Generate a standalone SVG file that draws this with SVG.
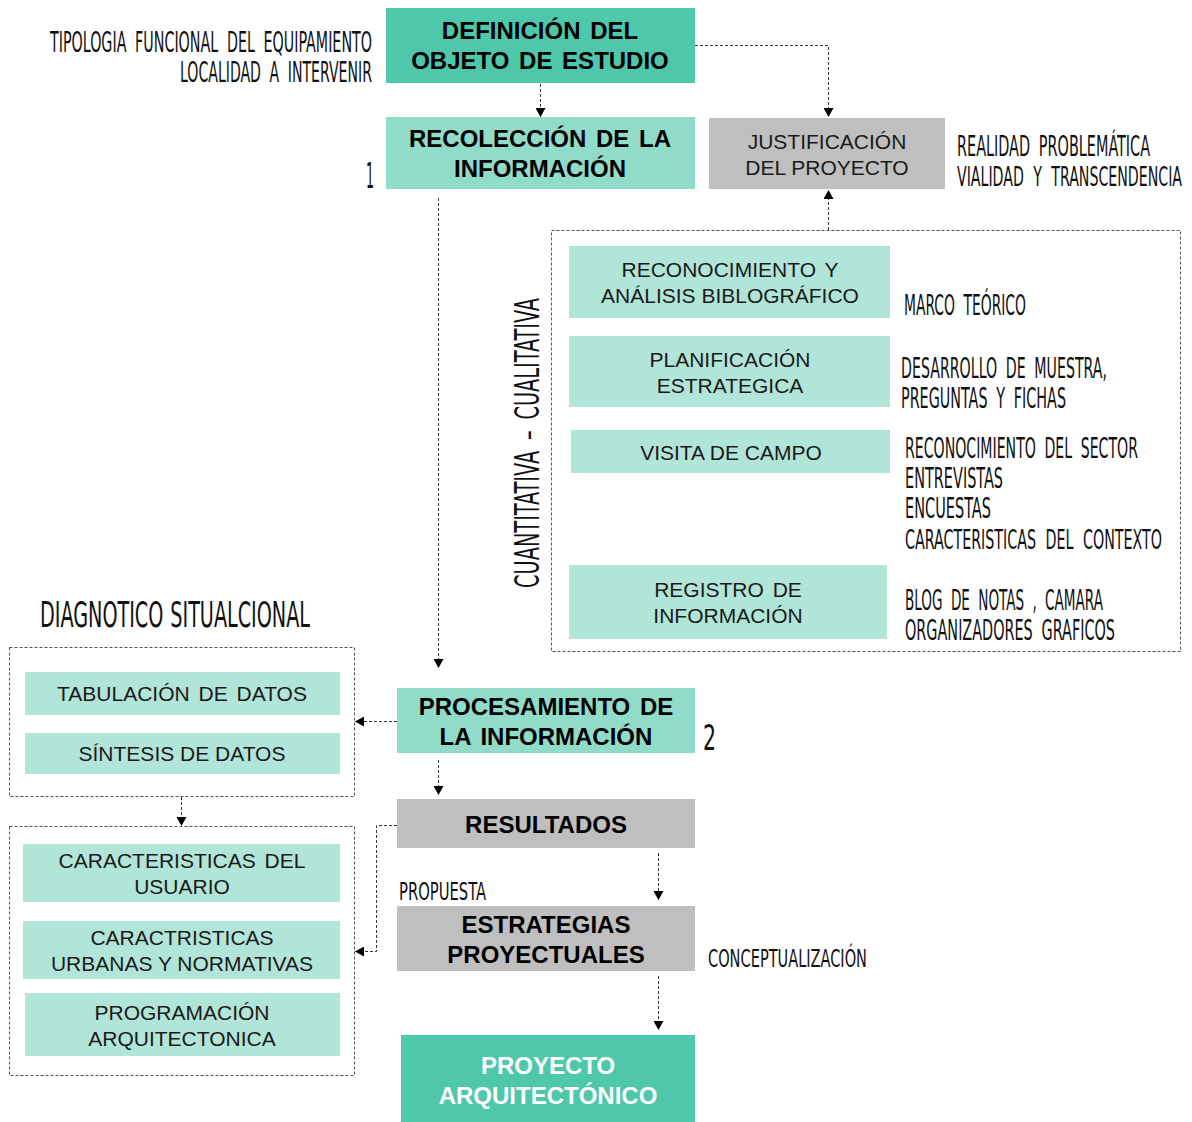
<svg xmlns="http://www.w3.org/2000/svg" width="1192" height="1122" viewBox="0 0 1192 1122">
<defs>
<marker id="ah" markerWidth="9" markerHeight="10" refX="9" refY="5" orient="auto" markerUnits="userSpaceOnUse">
<path d="M0,0 L9,5 L0,10 z" fill="#000"/>
</marker>
<style>
.dk{fill:#4EC7AA}
.md{fill:#91DCC9}
.lt{fill:#B1E5D8}
.gr{fill:#BFBFBF}
.bt{font-family:"Liberation Sans",Arial,sans-serif;font-weight:bold;font-size:24px;fill:#000;text-anchor:middle;word-spacing:3px}
.wt{font-family:"Liberation Sans",Arial,sans-serif;font-weight:bold;font-size:24px;fill:#fff;text-anchor:middle}
.rt{font-family:"Liberation Sans",Arial,sans-serif;font-size:21px;fill:#1a1a1a;text-anchor:middle}
.cn{font-family:"Liberation Sans Narrow","DejaVu Sans Condensed","Liberation Sans",sans-serif;font-size:19px;fill:#111;word-spacing:5px}
.dash{fill:none;stroke:#555;stroke-width:1;stroke-dasharray:3,2}
.con{fill:none;stroke:#333;stroke-width:1;stroke-dasharray:3,2}
</style>
</defs>
<rect width="1192" height="1122" fill="#fff"/>

<g id="labels">
<g transform="translate(50,52) scale(1,1.45)"><text class="cn" textLength="322" lengthAdjust="spacingAndGlyphs">TIPOLOGIA FUNCIONAL DEL EQUIPAMIENTO</text></g>
<g transform="translate(180,82) scale(1,1.45)"><text class="cn" textLength="192" lengthAdjust="spacingAndGlyphs">LOCALIDAD A INTERVENIR</text></g>
<g transform="translate(366,188) scale(1,1.45)"><text class="cn" style="font-size:25px" textLength="8" lengthAdjust="spacingAndGlyphs">1</text></g>
<g transform="translate(957,156) scale(1,1.45)"><text class="cn" textLength="193" lengthAdjust="spacingAndGlyphs">REALIDAD PROBLEMÁTICA</text></g>
<g transform="translate(957,186) scale(1,1.7)"><text class="cn" style="font-size:16px" textLength="225" lengthAdjust="spacingAndGlyphs">VIALIDAD Y TRANSCENDENCIA</text></g>
<g transform="translate(904,315) scale(1,1.45)"><text class="cn" textLength="122" lengthAdjust="spacingAndGlyphs">MARCO TEÓRICO</text></g>
<g transform="translate(901,378) scale(1,1.45)"><text class="cn" textLength="206" lengthAdjust="spacingAndGlyphs">DESARROLLO DE MUESTRA,</text></g>
<g transform="translate(901,408) scale(1,1.45)"><text class="cn" textLength="165" lengthAdjust="spacingAndGlyphs">PREGUNTAS Y FICHAS</text></g>
<g transform="translate(905,458) scale(1,1.45)"><text class="cn" textLength="233" lengthAdjust="spacingAndGlyphs">RECONOCIMIENTO DEL SECTOR</text></g>
<g transform="translate(905,488) scale(1,1.45)"><text class="cn" textLength="98" lengthAdjust="spacingAndGlyphs">ENTREVISTAS</text></g>
<g transform="translate(905,518) scale(1,1.45)"><text class="cn" textLength="86" lengthAdjust="spacingAndGlyphs">ENCUESTAS</text></g>
<g transform="translate(905,549) scale(1,1.7)"><text class="cn" style="font-size:16px" textLength="257" lengthAdjust="spacingAndGlyphs">CARACTERISTICAS DEL CONTEXTO</text></g>
<g transform="translate(905,610) scale(1,1.45)"><text class="cn" textLength="198" lengthAdjust="spacingAndGlyphs">BLOG DE NOTAS , CAMARA</text></g>
<g transform="translate(905,640) scale(1,1.45)"><text class="cn" textLength="210" lengthAdjust="spacingAndGlyphs">ORGANIZADORES GRAFICOS</text></g>
<g transform="translate(539,588) rotate(-90) scale(1,1.45)"><text class="cn" style="font-size:23px" textLength="290" lengthAdjust="spacingAndGlyphs">CUANTITATIVA – CUALITATIVA</text></g>
<g transform="translate(40,627) scale(1,1.45)"><text class="cn" style="font-size:25px;word-spacing:1px" textLength="270" lengthAdjust="spacingAndGlyphs">DIAGNOTICO SITUALCIONAL</text></g>
<g transform="translate(703,750) scale(1,1.45)"><text class="cn" style="font-size:24px" textLength="13" lengthAdjust="spacingAndGlyphs">2</text></g>
<g transform="translate(399,900) scale(1,1.4)"><text class="cn" style="font-size:18px" textLength="87" lengthAdjust="spacingAndGlyphs">PROPUESTA</text></g>
<g transform="translate(708,967) scale(1,1.4)"><text class="cn" style="font-size:18px" textLength="159" lengthAdjust="spacingAndGlyphs">CONCEPTUALIZACIÓN</text></g>
</g>

<g id="frames">
<rect class="dash" x="551.5" y="230.5" width="629" height="421"/>
<rect class="dash" x="9.5" y="647.5" width="345" height="149"/>
<rect class="dash" x="9.5" y="826.5" width="345" height="249"/>
</g>

<g id="n-definicion">
<rect class="dk" x="386" y="8" width="309" height="75"/>
<text class="bt" x="540" y="39">DEFINICIÓN DEL</text>
<text class="bt" x="540" y="69">OBJETO DE ESTUDIO</text>
</g>
<g id="n-recoleccion">
<rect class="md" x="386" y="117" width="309" height="72"/>
<text class="bt" x="540" y="147">RECOLECCIÓN DE LA</text>
<text class="bt" x="540" y="177">INFORMACIÓN</text>
</g>
<g id="n-justificacion">
<rect class="gr" x="709" y="118" width="236" height="71"/>
<text class="rt" x="827" y="149">JUSTIFICACIÓN</text>
<text class="rt" x="827" y="175">DEL PROYECTO</text>
</g>
<g id="n-reconocimiento">
<rect class="lt" x="569" y="246" width="321" height="72"/>
<text class="rt" x="730" y="277" style="word-spacing:3px">RECONOCIMIENTO Y</text>
<text class="rt" x="730" y="303">ANÁLISIS BIBLOGRÁFICO</text>
</g>
<g id="n-planificacion">
<rect class="lt" x="569" y="336" width="321" height="71"/>
<text class="rt" x="730" y="367">PLANIFICACIÓN</text>
<text class="rt" x="730" y="393">ESTRATEGICA</text>
</g>
<g id="n-visita">
<rect class="lt" x="571" y="430" width="319" height="43"/>
<text class="rt" x="731" y="460">VISITA DE CAMPO</text>
</g>
<g id="n-registro">
<rect class="lt" x="569" y="565" width="318" height="74"/>
<text class="rt" x="728" y="597" style="word-spacing:3px">REGISTRO DE</text>
<text class="rt" x="728" y="623">INFORMACIÓN</text>
</g>
<g id="n-tabulacion">
<rect class="lt" x="25" y="672" width="315" height="43"/>
<text class="rt" x="182" y="701" style="word-spacing:3px">TABULACIÓN DE DATOS</text>
</g>
<g id="n-sintesis">
<rect class="lt" x="25" y="733" width="315" height="41"/>
<text class="rt" x="182" y="761">SÍNTESIS DE DATOS</text>
</g>
<g id="n-procesamiento">
<rect class="md" x="397" y="688" width="298" height="65"/>
<text class="bt" x="546" y="715">PROCESAMIENTO DE</text>
<text class="bt" x="546" y="745">LA INFORMACIÓN</text>
</g>
<g id="n-usuario">
<rect class="lt" x="23" y="844" width="317" height="58"/>
<text class="rt" x="182" y="868" style="word-spacing:3px">CARACTERISTICAS DEL</text>
<text class="rt" x="182" y="894">USUARIO</text>
</g>
<g id="n-urbanas">
<rect class="lt" x="23" y="921" width="317" height="58"/>
<text class="rt" x="182" y="945">CARACTRISTICAS</text>
<text class="rt" x="182" y="971">URBANAS Y NORMATIVAS</text>
</g>
<g id="n-programacion">
<rect class="lt" x="25" y="993" width="315" height="63"/>
<text class="rt" x="182" y="1020">PROGRAMACIÓN</text>
<text class="rt" x="182" y="1046">ARQUITECTONICA</text>
</g>
<g id="n-resultados">
<rect class="gr" x="397" y="799" width="298" height="49"/>
<text class="bt" x="546" y="833">RESULTADOS</text>
</g>
<g id="n-estrategias">
<rect class="gr" x="397" y="906" width="298" height="65"/>
<text class="bt" x="546" y="933">ESTRATEGIAS</text>
<text class="bt" x="546" y="963">PROYECTUALES</text>
</g>
<g id="n-proyecto">
<rect class="dk" x="401" y="1035" width="294" height="87"/>
<text class="wt" x="548" y="1074">PROYECTO</text>
<text class="wt" x="548" y="1104">ARQUITECTÓNICO</text>
</g>

<g id="connectors">
<path class="con" d="M540.5,84 V117" marker-end="url(#ah)"/>
<path class="con" d="M695,45.5 H828.5 V117" marker-end="url(#ah)"/>
<path class="con" d="M828.5,230 V190" marker-end="url(#ah)"/>
<path class="con" d="M438.5,198 V668" marker-end="url(#ah)"/>
<path class="con" d="M397,721.5 H355" marker-end="url(#ah)"/>
<path class="con" d="M181.5,797 V826" marker-end="url(#ah)"/>
<path class="con" d="M438.5,760 V795" marker-end="url(#ah)"/>
<path class="con" d="M397,825.5 H376.5 V951.5 H355" marker-end="url(#ah)"/>
<path class="con" d="M658.5,853 V900" marker-end="url(#ah)"/>
<path class="con" d="M658.5,976 V1030" marker-end="url(#ah)"/>
</g>
</svg>
